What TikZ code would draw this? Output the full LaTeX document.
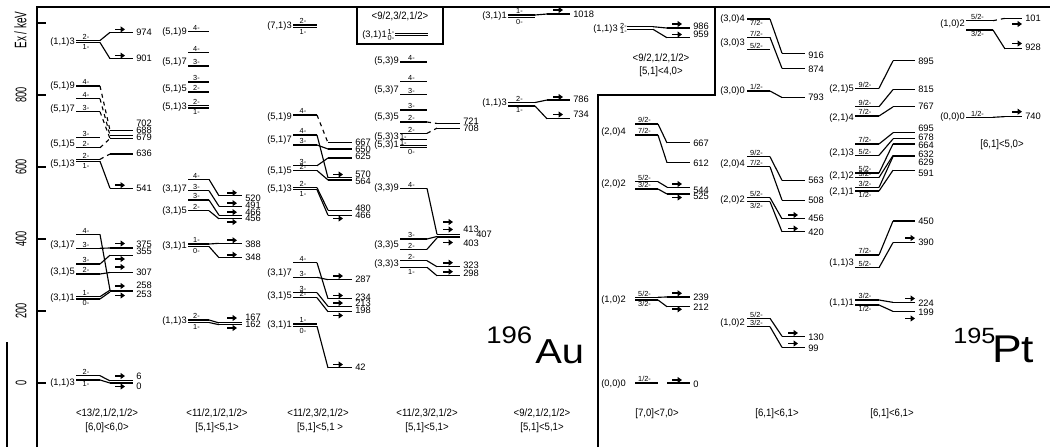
\documentclass[tikz,border=0pt]{standalone}
\usepackage{fontspec}
\setmainfont{Liberation Sans}
\newfontfamily\bfnt{Liberation Sans}[FakeStretch=0.9]
\newfontfamily\vfnt{Liberation Sans}[FakeStretch=0.6]
\newfontfamily\gfnt{Liberation Sans}[FakeStretch=1.15]
\usetikzlibrary{arrows.meta}
\pgfmathdeclarefunction{ey}{1}{\pgfmathparse{383-0.36*#1}}
\newcounter{nd}
\newcommand\setcol[6]{\def\XA{#1}\def\XB{#2}\def\XC{#3}\def\XD{#4}\def\XR{#5}\def\XM{#6}}
\newcommand\zlv[3][solid]{%
 \draw[lev] (\XA,#2) -- (\XB,#2);
 \draw[lev,#1] (\XB,#2) -- (\XC,{ey(#3)});
 \draw[lev] (\XC,{ey(#3)}) -- (\XD,{ey(#3)});}
\newcommand\ztl[1]{\draw[lev] (\XA,#1) -- (\XB,#1);}
\newcommand\zrl[1]{\draw[lev] (\XC,{ey(#1)}) -- (\XD,{ey(#1)});}
\newcommand\zar[1]{\draw[arr] (\XR,#1) -- ++(10,0);}
\newcommand\zel[2]{\stepcounter{nd}\node[elab] (n\thend) at ({\XD+3},#2) {#1};}
\newcommand\zml[2]{\stepcounter{nd}\node[mlab] (n\thend) at (\XM,#2) {#1};}
\newcommand\zsa[2]{\stepcounter{nd}\node[slab,anchor=south] (n\thend) at ({(\XA+\XB)/2-2},{#2-0.6}) {#1};}
\newcommand\zsb[2]{\stepcounter{nd}\node[slab,anchor=north] (n\thend) at ({(\XA+\XB)/2-2},{#2+0.8}) {#1};}
\newcommand\zbl[3]{\stepcounter{nd}\node[blab] (n\thend) at (#1,#2) {#3};}
\tikzset{
 lev/.style={line width=0.85pt},
 frame/.style={line width=1.4pt},
 arr/.style={line width=1.25pt,-{Triangle[length=3.3pt,width=4.4pt]}},
 elab/.style={anchor=west,inner sep=0pt,text height=5pt,text depth=0pt,font=\fontsize{7}{7}\selectfont},
 mlab/.style={anchor=east,inner sep=0pt,text height=5.2pt,text depth=1.3pt,font=\fontsize{7}{7}\selectfont},
 slab/.style={inner sep=0.3pt,text height=4pt,text depth=0pt,font=\fontsize{5.5}{5.5}\selectfont},
 blab/.style={inner sep=0pt,font=\bfnt\fontsize{8}{9}\selectfont},
 tlab/.style={rotate=90,inner sep=0pt,font=\vfnt\fontsize{11.5}{12}\selectfont},
 big/.style={anchor=base west,inner sep=0pt},
}
\begin{document}
\begin{tikzpicture}[x=0.75pt,y=-0.75pt]
\useasboundingbox (0,0) rectangle (1050,447);
% frame and axis
\draw[frame] (37,447) -- (37,7) -- (1050,7);
\draw[frame] (7,342) -- (7,447);
\draw[frame] (598,447) -- (598,95) -- (715,95) -- (715,7);
\foreach \e in {0,200,400,600,800,1000} \draw[lev] (37,{ey(\e)}) -- (46,{ey(\e)});
\foreach \e [count=\i] in {0,200,400,600,800} \node[tlab] (t\i) at (21,{ey(\e)}) {\e};
\node[tlab,font=\vfnt\fontsize{12.5}{13}\selectfont] (axl) at (20.5,30) {Ex / keV};

% ---------------- column 1
\setcol{76}{100}{110}{133}{115}{75}
\zml{(1,1)3}{41.5}
\zlv{40.5}{974}\zsa{2-}{40.5}
\zlv{42.5}{901}\zsb{1-}{42.5}
\zar{29.4}\zar{55.6}
\zel{974}{32.4}\zel{901}{58.6}
\zml{(5,1)9}{86}\zlv[dashed]{86}{702}\zsa{4-}{86}
\zml{(5,1)7}{109}\zlv[dashed]{98.7}{688}\zsa{4-}{98.7}\zlv[dashed]{111.7}{679}\zsa{3-}{111.7}
\zml{(5,1)5}{144}\ztl{137.3}\zsa{3-}{137.3}\zlv[dashed]{147.7}{679}\zsa{2-}{147.7}
\zml{(5,1)3}{164}\zlv[dashed]{159.3}{636}\zsa{2-}{159.3}\zlv{161.3}{541}\zsb{1-}{161.3}
\zar{185.2}
\zel{702}{123.3}\zel{688}{130}\zel{679}{136.7}\zel{636}{153.5}\zel{541}{188.5}
\zml{(3,1)7}{245}\zlv{234.3}{258}\zsa{4-}{234.3}\zlv{248.3}{375}\zsa{3-}{248.3}
\zml{(3,1)5}{272}\zlv{264}{355}\zsa{3-}{264}\zlv{274}{307}\zsa{2-}{274}
\zml{(3,1)1}{298}\zlv{296.7}{258}\zsa{1-}{296.7}\zlv{299}{253}\zsb{0-}{299}
\zar{243.5}\zar{259}\zar{267}\zar{286}\zar{295.5}
\zel{375}{244.5}\zel{355}{251.3}\zel{307}{272.3}\zel{258}{285}\zel{253}{294}
\zml{(1,1)3}{383}\zlv{375.7}{6}\zsa{2-}{375.7}\zlv{380}{0}\zsb{1-}{380}
\zar{376}\zar{386.5}\zel{6}{376}\zel{0}{385.7}
\zbl{107}{413}{<13/2,1/2,1/2>}\zbl{107}{428}{[6,0]<6,0>}

% ---------------- column 2
\setcol{188}{209}{219}{242}{227}{187}
\zml{(5,1)9}{31.7}\ztl{31.7}\zsa{4-}{31.7}
\zml{(5,1)7}{62}\ztl{52.7}\zsa{4-}{52.7}\ztl{66}\zsa{3-}{66}
\zml{(5,1)5}{88.5}\ztl{82}\zsa{3-}{82}\ztl{92}\zsa{2-}{92}
\zml{(5,1)3}{106.5}\ztl{105.5}\zsa{2-}{105.5}\ztl{108}\zsb{1-}{108}
\zml{(3,1)7}{188.5}\zlv{179.3}{520}\zsa{4-}{179.3}\zlv{190.7}{491}\zsa{3-}{190.7}
\zml{(3,1)5}{210.5}\zlv{200}{466}\zsa{3-}{200}\zlv{210.7}{456}\zsa{2-}{210.7}
\zar{192.8}\zar{203.2}\zar{212.2}\zar{222}
\zel{520}{198.5}\zel{491}{205.2}\zel{466}{211.9}\zel{456}{218.6}
\zml{(3,1)1}{245.5}\zlv{244}{388}\zsa{1-}{244}\zlv{246.5}{348}\zsb{0-}{246.5}
\zar{240.3}\zar{254.7}\zel{388}{244}\zel{348}{257}
\zml{(1,1)3}{321}\zlv{320}{167}\zsa{2-}{320}\zlv{322.5}{162}\zsb{1-}{322.5}
\zar{318}\zar{328}\zel{167}{317.5}\zel{162}{324.3}
\zbl{217}{413}{<11/2,1/2,1/2>}\zbl{217}{428}{[5,1]<5,1>}

% ---------------- column 3
\setcol{293}{317}{328}{352}{333}{292}
\zml{(7,1)3}{26}\ztl{25}\zsa{2-}{25}\ztl{27.2}\zsb{1-}{27.2}
\zml{(5,1)9}{116.7}\zlv[dashed]{115}{667}\zsa{4-}{115}
\zml{(5,1)7}{140}\zlv{135}{570}\zsa{4-}{135}\zlv{145}{650}\zsa{3-}{145}
\zml{(5,1)5}{170.7}\zlv{165.7}{625}\zsa{3-}{165.7}\zlv{170.5}{564}\zsa{2-}{170.5}
\zml{(5,1)3}{188.5}\zlv{187.7}{480}\zsa{2-}{187.7}\zlv{189.7}{466}\zsb{1-}{189.7}
\zar{174.5}\zar{218.5}
\zel{667}{142}\zel{650}{149}\zel{625}{156}\zel{570}{174.5}\zel{564}{181.5}\zel{480}{208.5}\zel{466}{215.5}
\zml{(3,1)7}{273}\zlv{262.7}{234}\zsa{4-}{262.7}\zlv{277.3}{287}\zsa{3-}{277.3}
\zml{(3,1)5}{296}\zlv{292.7}{213}\zsa{3-}{292.7}\zlv{297.7}{198}\zsa{2-}{297.7}
\zml{(3,1)1}{325}\ztl{324}\zsa{1-}{324}\zlv{326.3}{42}\zsb{0-}{326.3}
\zar{276}\zar{295.5}\zar{303}\zar{315.5}\zar{364.5}
\zel{287}{279}\zel{234}{296.8}\zel{213}{303.5}\zel{198}{310.2}\zel{42}{367}
\zbl{318}{413}{<11/2,3/2,1/2>}\zbl{320}{428}{[5,1]<5,1 >}

% ---------------- column 4
\setcol{400}{427}{437}{460}{443}{399}
\draw[frame] (357,7) rectangle (443,44);
\zbl{400}{16.5}{<9/2,3/2,1/2>}
\stepcounter{nd}\node[mlab] (n\thend) at (387,34.5) {(3,1)1};
\stepcounter{nd}\node[slab] (n\thend) at (391,31.6) {1-};
\stepcounter{nd}\node[slab] (n\thend) at (391,37.5) {0-};
\draw[lev] (395,33.3) -- (428,33.3);
\draw[lev] (395,35.7) -- (428,35.7);
\zml{(5,3)9}{61}\ztl{62}\zsa{4-}{62}
\zml{(5,3)7}{90}\ztl{81.7}\zsa{4-}{81.7}\ztl{94.3}\zsa{3-}{94.3}
\zml{(5,3)5}{116.5}\ztl{110}\zsa{3-}{110}\zlv[dashed]{122}{721}\zsa{2-}{122}
\zml{(5,3)3}{136.5}\zlv[dashed]{133.3}{708}\zsa{2-}{133.3}\ztl{139.3}
\stepcounter{nd}\node[slab,anchor=west] (n\thend) at (399.5,136.4) {1-};
\zml{(5,3)1}{145}\ztl{145.3}\ztl{147.7}\zsb{0-}{147.7}
\stepcounter{nd}\node[slab,anchor=west] (n\thend) at (399.5,142.4) {1-};
\zel{721}{121.3}\zel{708}{128}
\zml{(3,3)9}{188.3}\zlv{188.3}{413}\zsa{4-}{188.3}
\zml{(3,3)5}{245}\zlv{239}{407}\zsa{3-}{239}\zlv{249.3}{403}\zsa{2-}{249.3}
\zml{(3,3)3}{263.5}\zlv{260.7}{323}\zsa{2-}{260.7}\zlv{267.3}{298}\zsb{1-}{267.3}
\zar{222}\zar{229.5}\zar{242.5}\zar{262.7}\zar{271.7}
\zel{413}{229.3}\zel{403}{243.3}\zel{323}{265}\zel{298}{273.3}
\stepcounter{nd}\node[elab] (n\thend) at (476,234.5) {407};
\zbl{427}{413}{<11/2,3/2,1/2>}\zbl{427}{428}{[5,1]<5,1>}

% ---------------- column 5
\setcol{508}{535}{547}{570}{553}{507}
\zml{(3,1)1}{16}\zlv{15}{1025}\zsa{1-}{15}\ztl{17.5}\zsb{0-}{17.5}
\zar{10}\zel{1018}{14}
\zml{(1,1)3}{103}\zlv{102.5}{786}\zsa{2-}{102.5}\zlv{106}{734}\zsb{1-}{106}
\zar{97}\zar{114.5}\zel{786}{99.5}\zel{734}{114}
\zbl{542}{413}{<9/2,1/2,1/2>}\zbl{542}{428}{[5,1]<5,1>}
\stepcounter{nd}\node[big,font=\gfnt\fontsize{18}{18}\selectfont] (n\thend) at (486,343) {196};
\stepcounter{nd}\node[big,font=\gfnt\fontsize{26}{26}\selectfont] (n\thend) at (535,363) {Au};

% ---------------- column 6 (box)
\setcol{627}{653}{667}{690}{672}{618}
\zml{(1,1)3}{28.5}
\stepcounter{nd}\node[slab,anchor=west] (n\thend) at (619.5,25.4) {2-};
\stepcounter{nd}\node[slab,anchor=west] (n\thend) at (619.5,31) {1-};
\zlv{26.7}{986}\zlv{29.3}{959}
\zar{24}\zar{34.5}\zel{986}{26}\zel{959}{34.5}
\zbl{661}{58}{<9/2,1/2,1/2>}\zbl{661}{72}{[5,1]<4,0>}

% ---------------- column 6
\setcol{635}{658}{667}{690}{672}{626}
\zml{(2,0)4}{131.7}\zlv{124}{667}\zsa{9/2-}{124}\zlv{135}{612}\zsa{7/2-}{135}
\zml{(2,0)2}{184}\zlv{181.7}{544}\zsa{5/2-}{181.7}\zlv{189}{525}\zsa{3/2-}{189}
\zar{184}\zar{197.5}
\zel{667}{142.7}\zel{612}{162.7}\zel{544}{189.8}\zel{525}{196.6}
\zml{(1,0)2}{300}\zlv{297.3}{239}\zsa{5/2-}{297.3}\zlv{300}{212}\zsb{3/2-}{300}
\zar{293.3}\zar{309.3}\zel{239}{297.3}\zel{212}{307.3}
\zml{(0,0)0}{384}\ztl{383}\zsa{1/2-}{383}\zrl{0}
\zar{380}\zel{0}{384}
\zbl{657}{414}{[7,0]<7,0>}

% ---------------- column 7
\setcol{747}{770}{782}{805}{788}{745}
\zml{(3,0)4}{19.3}\zlv{19}{916}\zsb{7/2-}{19}
\zml{(3,0)3}{43.3}\zlv{37.3}{874}\zsa{7/2-}{37.3}\ztl{49.5}\zsa{5/2-}{49.5}
\zel{916}{55}\zel{874}{69.5}
\zml{(3,0)0}{91}\zlv{91}{793}\zsa{1/2-}{91}\zel{793}{97.5}
\zml{(2,0)4}{164.3}\zlv{156.7}{563}\zsa{9/2-}{156.7}\zlv{166.7}{508}\zsa{7/2-}{166.7}
\zel{563}{180.5}\zel{508}{200.5}
\zml{(2,0)2}{200}\zlv{197.7}{456}\zsa{5/2-}{197.7}\zlv{201.7}{420}\zsb{3/2-}{201.7}
\zar{215}\zar{228.5}\zel{456}{218.5}\zel{420}{232}
\zml{(1,0)2}{323.3}\zlv{318.3}{130}\zsa{5/2-}{318.3}\zlv{326.7}{99}\zsa{3/2-}{326.7}
\zar{333}\zar{343.5}\zel{130}{336.7}\zel{99}{348}
\zbl{777}{414}{[6,1]<6,1>}

% ---------------- column 8
\setcol{855}{879}{893}{915}{905}{854}
\zml{(2,1)5}{89.3}\zlv{88.3}{895}\zsa{9/2-}{88.3}\zel{895}{60.8}
\zml{(2,1)4}{118.3}\zlv{106.7}{815}\zsa{9/2-}{106.7}\zlv{116}{767}\zsa{7/2-}{116}
\zel{815}{89.5}\zel{767}{106.5}
\zml{(2,1)3}{153.3}\zlv{144}{695}\zsa{7/2-}{144}\zlv{155.3}{678}\zsa{5/2-}{155.3}
\zml{(2,1)2}{176}\zlv{173}{664}\zsa{5/2-}{173}\zlv{177.5}{632}\zsa{3/2-}{177.5}
\zml{(2,1)1}{191.5}\zlv{187.5}{629}\zsa{3/2-}{187.5}\zlv{191}{591}\zsb{1/2-}{191}
\zel{695}{128.3}\zel{678}{136.7}\zel{664}{145.5}\zel{632}{154}\zel{629}{162.3}\zel{591}{173}
\zml{(1,1)3}{263.3}\zlv{255}{450}\zsa{7/2-}{255}\zlv{267.7}{390}\zsa{5/2-}{267.7}
\zar{238}\zel{450}{221}\zel{390}{242.5}
\zml{(1,1)1}{303.3}\zlv{300}{224}\zsa{3/2-}{300}\zlv{305}{199}\zsb{1/2-}{305}
\zar{298.5}\zar{318.5}\zel{224}{303.3}\zel{199}{312.5}
\zbl{892}{414}{[6,1]<6,1>}

% ---------------- column 9
\setcol{966}{993}{1005}{1022}{1012}{965}
\zml{(1,0)2}{24}\zlv[dashed]{20.7}{1013}\zsa{5/2-}{20.7}\zlv{30}{928}\zsb{3/2-}{30}
\zar{24}\zar{43.5}\zel{101}{18.3}\zel{928}{47.5}
\zml{(0,0)0}{117}\zlv{117.3}{740}\zsa{1/2-}{117.3}
\zar{111.7}\zel{740}{115.7}
\zbl{1002}{145}{[6,1]<5,0>}
\stepcounter{nd}\node[big,font=\gfnt\fontsize{16.5}{16.5}\selectfont] (n\thend) at (953,343) {195};
\stepcounter{nd}\node[big,font=\gfnt\fontsize{29}{29}\selectfont] (n\thend) at (992,362) {Pt};
\end{tikzpicture}
\end{document}
